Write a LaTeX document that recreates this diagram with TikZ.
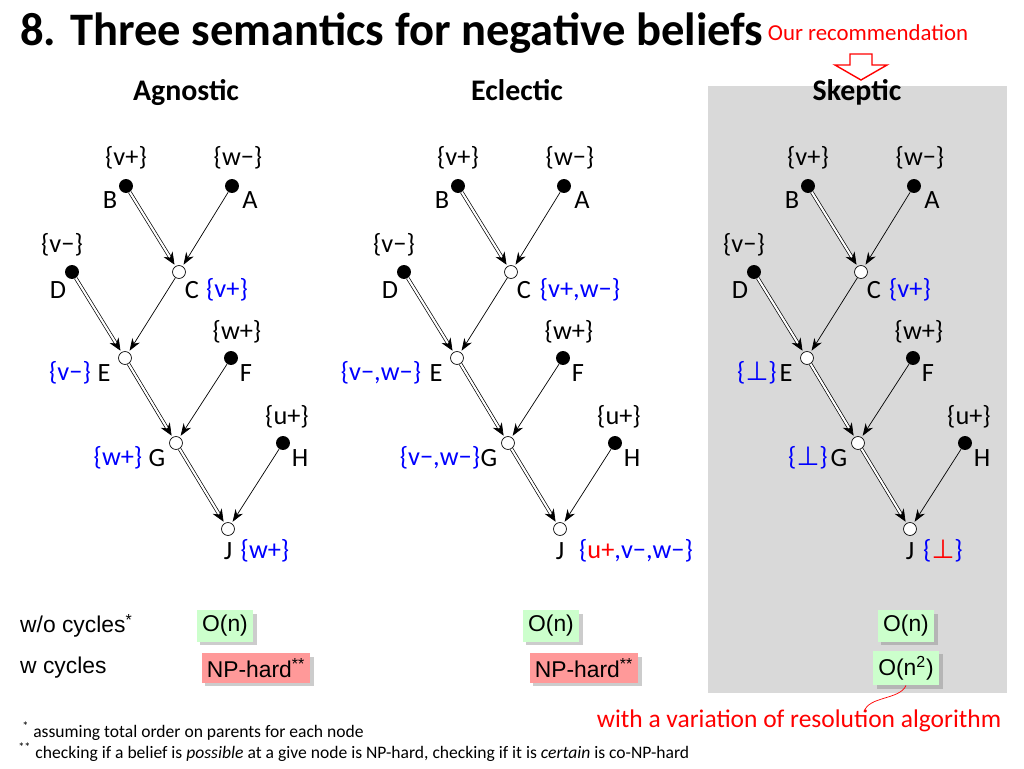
\documentclass[tikz,border=0pt]{standalone}
\usepackage{fontspec}
\setmainfont{Carlito}
\newfontfamily\arialfont{Liberation Sans}
\newfontfamily\symfont{DejaVu Sans}
\usetikzlibrary{arrows.meta,shadows}
\definecolor{boxgreen}{HTML}{CCFFCC}
\definecolor{boxred}{HTML}{FF9999}
\definecolor{panelgray}{HTML}{D9D9D9}
\tikzset{
  src/.style={circle, fill=black, inner sep=0pt, minimum size=14pt*0.567},
  mid/.style={circle, draw, fill=white, inner sep=0pt, minimum size=13pt*0.567},
  tag/.style={font=\fontsize{15}{17}\selectfont, inner sep=1pt},
  thin arc/.style={-{Stealth[length=7pt,width=5pt]}, shorten >=1pt},
  main arc/.style={double, double distance=1.2pt, -{Stealth[length=7pt,width=6pt]}, shorten >=1pt},
  cost/.style={font=\arialfont\fontsize{13}{15}\selectfont, inner sep=3pt, drop shadow={opacity=0.4, shadow xshift=2pt, shadow yshift=-2pt}},
  head/.style={font=\bfseries\fontsize{17}{19}\selectfont, anchor=base},
}
\newcommand{\falsum}{{\symfont ⊥}}
% one tree: x offset, name prefix
\newcommand{\drawtree}[2]{%
  \begin{scope}[xshift=#1]
  \node[src] (#2B) at (126,186) {};
  \node[src] (#2A) at (232,186) {};
  \node[src] (#2D) at (72,272) {};
  \node[mid] (#2C) at (179,272) {};
  \node[mid] (#2E) at (125,358) {};
  \node[src] (#2F) at (231,358) {};
  \node[mid] (#2G) at (176,443) {};
  \node[src] (#2H) at (283,443) {};
  \node[mid] (#2J) at (228,529) {};
  \draw[main arc] (#2B) -- (#2C);
  \draw[thin arc] (#2A) -- (#2C);
  \draw[main arc] (#2D) -- (#2E);
  \draw[thin arc] (#2C) -- (#2E);
  \draw[main arc] (#2E) -- (#2G);
  \draw[thin arc] (#2F) -- (#2G);
  \draw[main arc] (#2G) -- (#2J);
  \draw[thin arc] (#2H) -- (#2J);
  \node[tag] (#2Bn) at (110,200) {B};
  \node[tag] (#2Bv) at (126,158) {\{v+\}};
  \node[tag] (#2An) at (250,200) {A};
  \node[tag] (#2Av) at (238,158) {\{w−\}};
  \node[tag] (#2Dn) at (58,290) {D};
  \node[tag] (#2Dv) at (62,245) {\{v−\}};
  \node[tag] (#2Cn) at (192,290) {C};
  \node[tag] (#2En) at (104,373) {E};
  \node[tag] (#2Fn) at (246,373) {F};
  \node[tag] (#2Fv) at (237,332) {\{w+\}};
  \node[tag] (#2Gn) at (157,458) {G};
  \node[tag] (#2Hn) at (300,458) {H};
  \node[tag] (#2Hv) at (287,417) {\{u+\}};
  \node[tag] (#2Jn) at (228,551) {J};
  \end{scope}}
\begin{document}
\begin{tikzpicture}[x=0.02cm, y=-0.02cm]
\useasboundingbox (0,0) rectangle (1024,768);

% panel for the recommended semantics
\fill[panelgray] (708,86) rectangle (1007,693);

% title and recommendation
\node[anchor=west, font=\bfseries\fontsize{26.5}{30}\selectfont, inner sep=0pt] (title) at (20,33) {8. Three semantics for negative beliefs};
\node[red, font=\fontsize{13}{15}\selectfont] (rec) at (868,33) {Our recommendation};
\draw[red, thick, fill=white] (850,54) -- (872,54) -- (872,65) -- (887,65) -- (861,80) -- (835,65) -- (850,65) -- cycle;

% headers
\node[head] (hag) at (186,100) {Agnostic};
\node[head] (hec) at (517,100) {Eclectic};
\node[head] (hsk) at (857,100) {Skeptic};

% trees
\drawtree{0}{ag}
\drawtree{332*0.02cm}{ec}
\drawtree{682*0.02cm}{sk}

% Agnostic beliefs
\node[tag, blue] at (227,290) {\{v+\}};
\node[tag, blue] at (70,373) {\{v−\}};
\node[tag, blue] at (118,458) {\{w+\}};
\node[tag, blue] at (265,551) {\{w+\}};

% Eclectic beliefs
\node[tag, blue] at (580,290) {\{v+,w−\}};
\node[tag, blue] at (381,373) {\{v−,w−\}};
\node[tag, blue] at (440,458) {\{v−,w−\}};
\node[tag, blue] at (636,551) {\{\textcolor{red}{u+},v−,w−\}};

% Skeptic beliefs
\node[tag, blue] at (910,290) {\{v+\}};
\node[tag, blue] at (757,373) {\{\falsum\}};
\node[tag, blue] at (808,458) {\{\falsum\}};
\node[tag, blue] at (943,551) {\{\textcolor{red}{\falsum}\}};

% complexity
\node[anchor=west, font=\arialfont\fontsize{13}{15}\selectfont] (wo) at (14,626) {w/o cycles\textsuperscript{*}};
\node[anchor=west, font=\arialfont\fontsize{13}{15}\selectfont] (wc) at (14,668) {w cycles};
\node[cost, fill=boxgreen] (agl) at (225,626) {O(n)};
\node[cost, fill=boxred] (agc) at (256,668) {NP-hard\textsuperscript{**}};
\node[cost, fill=boxgreen] (ecl) at (551,626) {O(n)};
\node[cost, fill=boxred] (ecc) at (584,668) {NP-hard\textsuperscript{**}};
\node[cost, fill=boxgreen] (skl) at (906,626) {O(n)};
\node[cost, fill=boxgreen] (skc) at (906,668) {O(n\textsuperscript{2})};

% note on the skeptic algorithm
\node[red, font=\fontsize{14.5}{17}\selectfont] (alg) at (799,721) {with a variation of resolution algorithm};
\draw[red] (skc.south) .. controls (900,700) and (868,696) .. (864,712);

% footnotes
\node[anchor=west, font=\fontsize{10}{12}\selectfont, inner sep=0pt] (fn1) at (22,731) {\textsuperscript{*} assuming total order on parents for each node};
\node[anchor=west, font=\fontsize{10}{12}\selectfont, inner sep=0pt] (fn2) at (18,752) {\textsuperscript{**} checking if a belief is \textit{possible} at a give node is NP-hard, checking if it is \textit{certain} is co-NP-hard};
\end{tikzpicture}
\end{document}
